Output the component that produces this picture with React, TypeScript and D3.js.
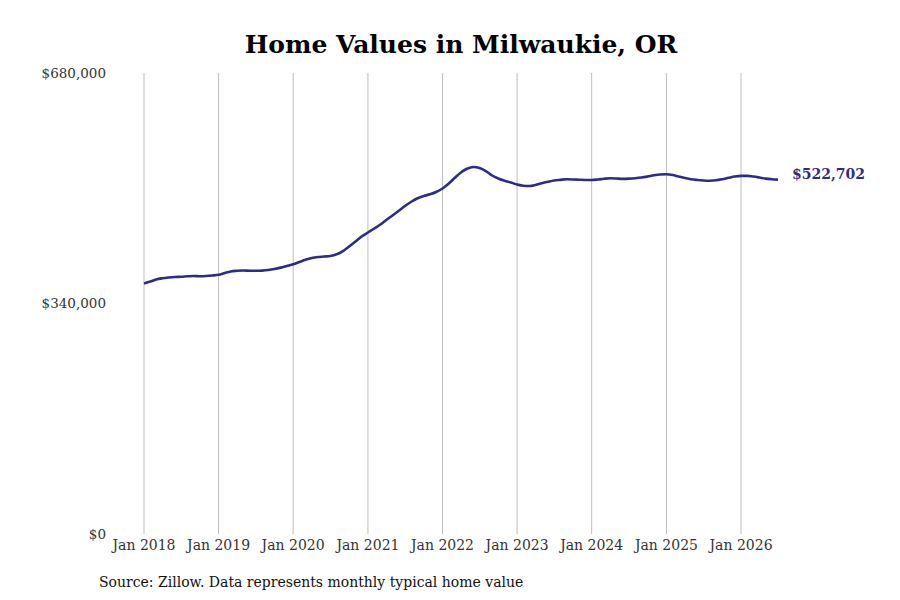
import { useEffect, useRef } from "react";
import * as d3 from "d3";

// monthly typical home value, Jan 2018 .. Jul 2026
const startMonth = "2018-01";
const values = [
  369500, 372400, 375400, 377200, 378300, 379100, 379500, 380100, 380600, 380300, 380600, 381300,
  382300, 385000, 387200, 388200, 388700, 388400, 388200, 388500, 389400, 390900, 392900, 395300,
  397800, 401200, 404400, 407100, 408600, 409300, 410100, 412600, 417400, 424100, 431400, 438800,
  444700, 450600, 456100, 463200, 469800, 476700, 483800, 490100, 495200, 498600, 501100, 504500,
  509600, 517000, 525100, 533200, 538700, 541300, 539900, 535400, 528800, 524400, 521000, 518500,
  515500, 513600, 513300, 514800, 517300, 519500, 521400, 522400, 523200, 523000, 522600, 522200,
  522200, 522900, 523900, 524700, 524400, 523900, 524200, 524800, 525800, 527300, 529100, 530300,
  530700, 529500, 527300, 525100, 523300, 522200, 521400, 521100, 521700, 523300, 525400, 527300,
  528300, 528300, 527300, 525800, 524200, 523300, 522702,
];
const yTicks = [0, 340000, 680000];
const xTickYears = [2018, 2019, 2020, 2021, 2022, 2023, 2024, 2025, 2026];

const title = "Home Values in Milwaukie, OR";
const source = "Source: Zillow. Data represents monthly typical home value";

interface Point {
  date: Date;
  value: number;
}

export default function App() {
  const ref = useRef<SVGSVGElement | null>(null);

  useEffect(() => {
    if (!ref.current) return;
    document.body.style.margin = "0";

    const width = 900;
    const height = 600;
    const margin = { top: 73, right: 122, bottom: 66, left: 144 };
    const font = "'DejaVu Serif', serif";
    const lineColor = "#2e2c8a";

    const svg = d3.select(ref.current).attr("viewBox", `0 0 ${width} ${height}`);
    svg.selectAll("*").remove();

    const start = d3.timeParse("%Y-%m")(startMonth)!;
    const data: Point[] = values.map((v, i) => ({ date: d3.timeMonth.offset(start, i), value: v }));

    /* ---------------- SCALES ---------------- */

    const x = d3
      .scaleTime()
      .domain(d3.extent(data, d => d.date) as [Date, Date])
      .range([margin.left, width - margin.right]);

    const y = d3
      .scaleLinear()
      .domain([0, 680000])
      .range([height - margin.bottom, margin.top]);

    /* ---------------- TITLE ---------------- */

    svg.append("text")
      .attr("x", 461)
      .attr("y", 53)
      .attr("text-anchor", "middle")
      .attr("font-family", font)
      .attr("font-weight", "bold")
      .attr("font-size", 25)
      .attr("fill", "#000")
      .text(title);

    /* ---------------- GRID + X AXIS ---------------- */

    const years = xTickYears.map(yr => new Date(yr, 0, 1));

    svg.append("g")
      .selectAll("line")
      .data(years)
      .enter()
      .append("line")
      .attr("x1", d => x(d))
      .attr("x2", d => x(d))
      .attr("y1", y(680000))
      .attr("y2", y(0))
      .attr("stroke", "#bdbdbd")
      .attr("stroke-width", 1);

    svg.append("g")
      .selectAll("text")
      .data(years)
      .enter()
      .append("text")
      .attr("x", d => x(d))
      .attr("y", y(0) + 16)
      .attr("text-anchor", "middle")
      .attr("font-family", font)
      .attr("font-size", 14)
      .attr("fill", "#333")
      .text(d => d3.timeFormat("Jan %Y")(d));

    /* ---------------- Y LABELS ---------------- */

    svg.append("g")
      .selectAll("text")
      .data(yTicks)
      .enter()
      .append("text")
      .attr("x", 106)
      .attr("y", d => y(d))
      .attr("dy", "0.35em")
      .attr("text-anchor", "end")
      .attr("font-family", font)
      .attr("font-size", 13.5)
      .attr("fill", "#333")
      .text(d => `$${d3.format(",")(d)}`);

    /* ---------------- LINE ---------------- */

    const line = d3.line<Point>()
      .x(d => x(d.date))
      .y(d => y(d.value))
      .curve(d3.curveMonotoneX);

    svg.append("path")
      .datum(data)
      .attr("fill", "none")
      .attr("stroke", lineColor)
      .attr("stroke-width", 2.6)
      .attr("stroke-linejoin", "round")
      .attr("d", line);

    const last = data[data.length - 1];
    svg.append("text")
      .attr("x", x(last.date) + 14)
      .attr("y", y(last.value) - 6)
      .attr("dy", "0.35em")
      .attr("font-family", font)
      .attr("font-weight", "bold")
      .attr("font-size", 14)
      .attr("fill", lineColor)
      .text(`$${d3.format(",")(last.value)}`);

    /* ---------------- SOURCE ---------------- */

    svg.append("text")
      .attr("x", 99)
      .attr("y", 587)
      .attr("font-family", font)
      .attr("font-size", 14)
      .attr("fill", "#111")
      .text(source);
  }, []);

  return <svg ref={ref} width={900} height={600} style={{ display: "block" }} />;
}
